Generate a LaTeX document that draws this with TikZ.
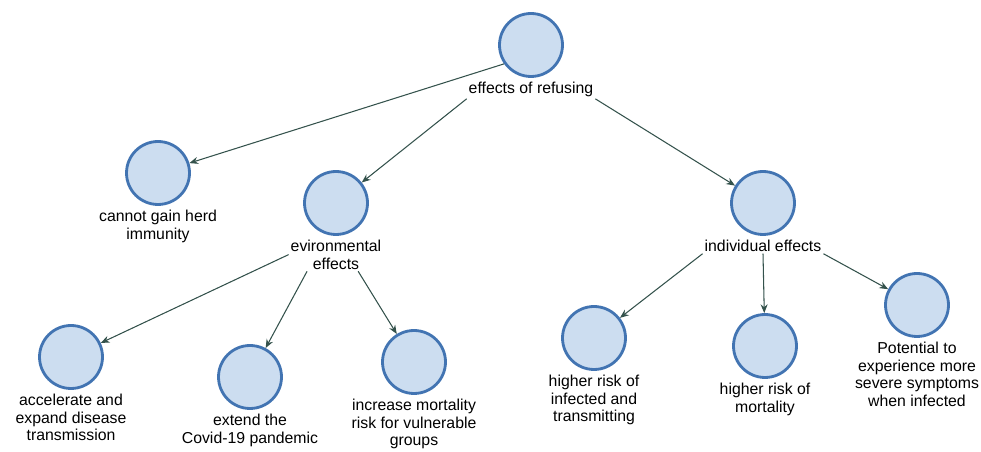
\documentclass[tikz,border=0pt]{standalone}
\usepackage{fontspec}
\setmainfont{Liberation Sans}
\usetikzlibrary{arrows.meta, positioning}
\definecolor{ringblue}{RGB}{66,116,178}
\definecolor{fillblue}{RGB}{204,221,240}
\definecolor{linkgreen}{RGB}{52,82,76}

\begin{document}
\begin{tikzpicture}[x=0.02cm, y=-0.02cm,
	concept/.style={draw=ringblue, fill=fillblue, circle, line width=1.6pt, minimum size=1.26cm, inner sep=0pt},
	lbl/.style={align=center, inner sep=1pt, font=\fontsize{9}{10}\selectfont, below=0.4mm of #1},
	link/.style={draw=linkgreen, line width=0.6pt, -{Stealth[length=5pt, width=4pt]}}]
	\useasboundingbox (0, 0) rectangle (981, 452);
	% circles
	\node[concept] (root) at (531, 45) {};
	\node[concept] (herd) at (158, 173) {};
	\node[concept] (env) at (336, 203) {};
	\node[concept] (indiv) at (763, 203) {};
	\node[concept] (accel) at (71, 357) {};
	\node[concept] (extend) at (250, 377) {};
	\node[concept] (mort) at (414, 362) {};
	\node[concept] (infect) at (594, 338) {};
	\node[concept] (death) at (765, 346) {};
	\node[concept] (severe) at (917, 305) {};
	% labels
	\node[lbl=root] (rootl) {effects of refusing};
	\node[lbl=herd] (herdl) {cannot gain herd\\immunity};
	\node[lbl=env] (envl) {evironmental\\effects};
	\node[lbl=indiv] (indivl) {individual effects};
	\node[lbl=accel] (accell) {accelerate and\\expand disease\\transmission};
	\node[lbl=extend] (extendl) {extend the\\Covid-19 pandemic};
	\node[lbl=mort] (mortl) {increase mortality\\risk for vulnerable\\groups};
	\node[lbl=infect] (infectl) {higher risk of\\infected and\\transmitting};
	\node[lbl=death] (deathl) {higher risk of\\mortality};
	\node[lbl=severe] (severel) {Potential to\\experience more\\severe symptoms\\when infected};
	% links
	\draw[link] (root.215) -- (herd);
	\draw[link] (rootl.south west) -- (env);
	\draw[link] (rootl.south east) -- (indiv);
	\draw[link] (envl.180) -- (accel);
	\draw[link] (envl.210) -- (extend);
	\draw[link] (envl.323) -- (mort);
	\draw[link] (indivl.south west) -- (infect);
	\draw[link] (indivl.south) -- (death);
	\draw[link] (indivl.south east) -- (severe);
\end{tikzpicture}
\end{document}
